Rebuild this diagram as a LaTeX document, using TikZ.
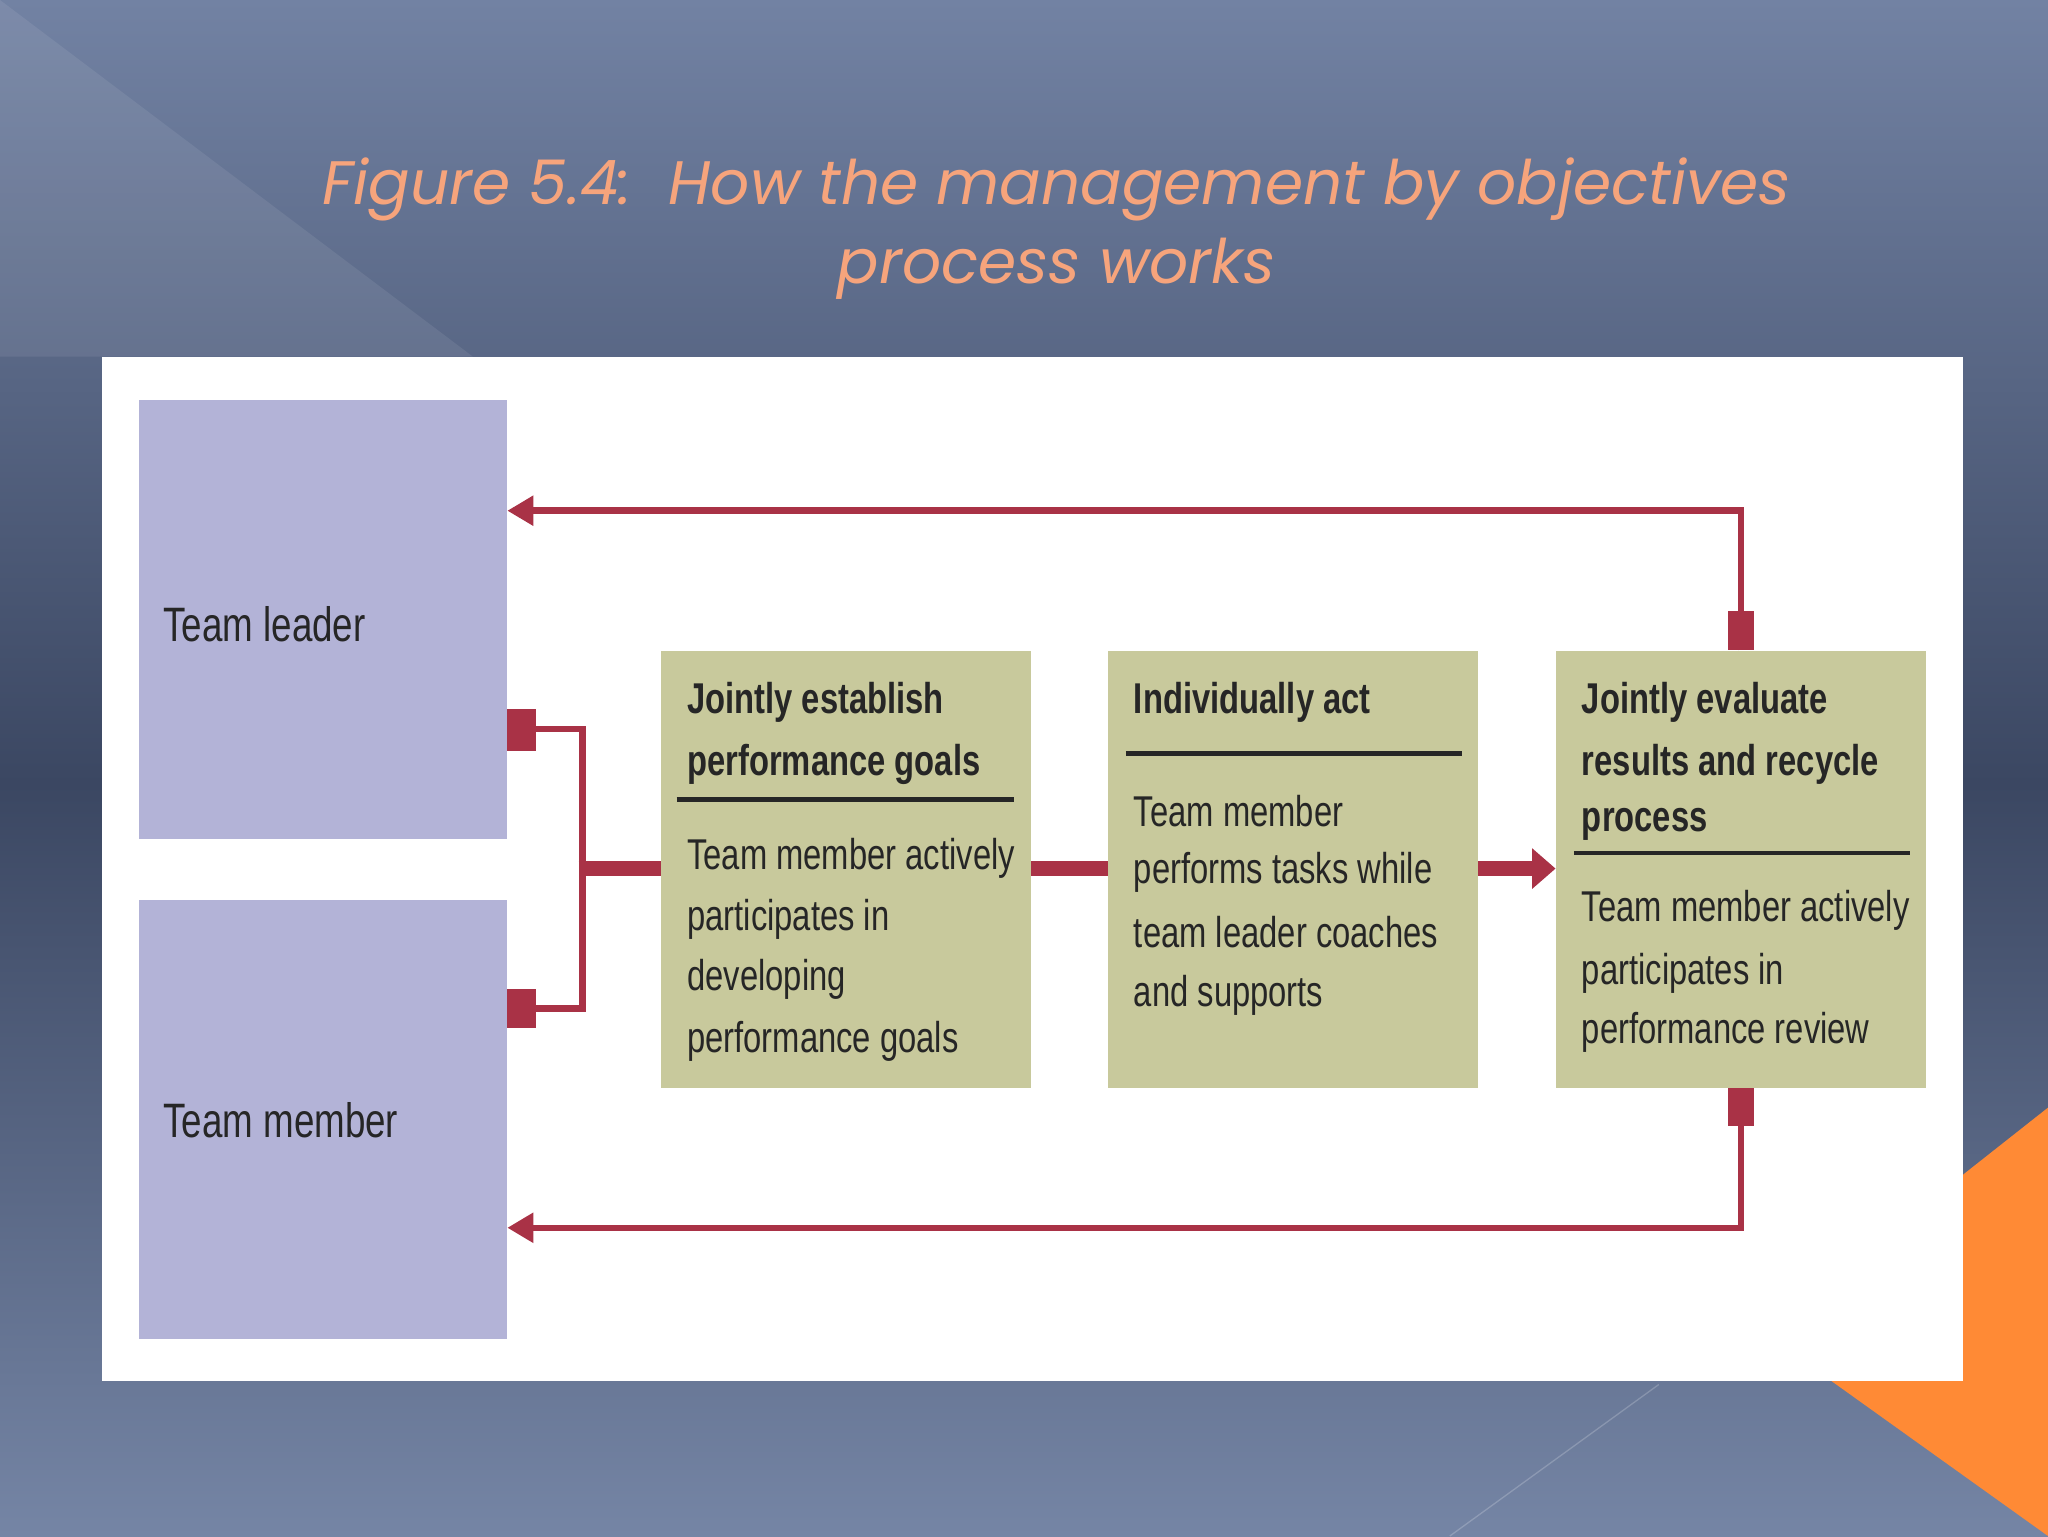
\documentclass[tikz,border=0pt]{standalone}
\usepackage{fontspec}
\setmainfont{Liberation Sans}
\newfontfamily\narrowf[FakeStretch=0.76]{Liberation Sans}
\newfontfamily\titlef{Poppins}
\usetikzlibrary{arrows.meta,calc}
\definecolor{bgtop}{HTML}{7282A3}
\definecolor{bgmid}{HTML}{3B4762}
\definecolor{bgbot}{HTML}{7585A5}
\definecolor{lav}{HTML}{B3B3D7}
\definecolor{olive}{HTML}{C8C99C}
\definecolor{mred}{HTML}{A93246}
\definecolor{ttl}{HTML}{F6A47C}
\definecolor{org}{HTML}{FF8A35}
\begin{document}
\begin{tikzpicture}[x=1pt,y=-1pt,
  lbox/.style={draw=none,fill=lav,minimum width=282pt,minimum height=336pt,anchor=north west,inner sep=0},
  gbox/.style={draw=none,fill=olive,minimum width=283pt,minimum height=335pt,anchor=north west,inner sep=0},
  ttxt/.style={anchor=west,inner sep=0,font=\narrowf\bfseries\fontsize{33}{40}\selectfont,text=black!85},
  btxt/.style={anchor=west,inner sep=0,font=\narrowf\fontsize{33}{40}\selectfont,text=black!85},
  rl/.style={draw=black!85,line width=3.5pt},
  red/.style={draw=mred,line width=5pt},
  thick red/.style={draw=mred,line width=11pt},
  stub/.style={fill=mred,draw=none}]
\useasboundingbox (0,0) rectangle (1568,1176);
\shade[top color=bgtop,bottom color=bgmid] (0,0) rectangle (1568,600);
\shade[top color=bgmid,bottom color=bgbot] (0,600) rectangle (1568,1176);
\fill[white,opacity=0.08] (0,0) -- (362,273) -- (0,273) -- cycle;
\draw[white,opacity=0.2,line width=1pt] (1110,1176) -- (1270,1060);
\fill[org] (1568,848) -- (1350,1020) -- (1568,1176) -- cycle;
\fill[white] (78,273) rectangle (1503,1057);
\node[font=\titlef\itshape\fontsize{47}{60}\selectfont,text=ttl,align=center] (title) at (809,175) {Figure 5.4:\ \ How the management by objectives\\process works};
% left boxes
\node[lbox] (tl) at (106,306) {};
\node[lbox] (tm) at (106,689) {};
\node[btxt,font=\narrowf\fontsize{37}{44}\selectfont] (tlt) at (125,478) {Team leader};
\node[btxt,font=\narrowf\fontsize{37}{44}\selectfont] (tmt) at (125,858) {Team member};
% green boxes
\node[gbox] (b1) at (506,498) {};
\node[gbox] (b2) at (848,498) {};
\node[gbox] (b3) at (1191,498) {};
\node[ttxt] (b1a) at (526,538) {Jointly establish};
\node[ttxt] (b1b) at (526,585) {performance goals};
\draw[rl] (518,612) -- (776,612);
\node[btxt] (b1c) at (526,657) {Team member actively};
\node[btxt] (b1d) at (526,704) {participates in};
\node[btxt] (b1e) at (526,750) {developing};
\node[btxt] (b1f) at (526,797) {performance goals};
\node[ttxt] (b2a) at (868,538) {Individually act};
\draw[rl] (862,577) -- (1119,577);
\node[btxt] (b2c) at (868,621) {Team member};
\node[btxt] (b2d) at (868,668) {performs tasks while};
\node[btxt] (b2e) at (868,714) {team leader coaches};
\node[btxt] (b2f) at (868,762) {and supports};
\node[ttxt] (b3a) at (1211,538) {Jointly evaluate};
\node[ttxt] (b3b) at (1211,585) {results and recycle};
\node[ttxt] (b3c) at (1211,631) {process};
\draw[rl] (1205,653) -- (1462,653);
\node[btxt] (b3d) at (1211,697) {Team member actively};
\node[btxt] (b3e) at (1211,745) {participates in};
\node[btxt] (b3f) at (1211,790) {performance review};
% connectors
\coordinate (topturn) at (1333,391);
\coordinate (botturn) at (1333,940);
\fill[stub] (1323,468) rectangle (1343,498);
\fill[stub] (1323,833) rectangle (1343,862);
\draw[red,-{Triangle[width=22pt,length=20pt]}] (1333,498) -- (topturn) -- (tl.east |- topturn);
\draw[red,-{Triangle[width=22pt,length=20pt]}] (1333,833) -- (botturn) -- (tm.east |- botturn);
\fill[stub] (388,543) rectangle (410,575);
\fill[stub] (388,757) rectangle (410,787);
\coordinate (bk) at (446,665);
\draw[red] (408,558) -- (446,558) -- (446,772) -- (408,772);
\draw[thick red] (443,665) -- (b1.west |- bk);
\draw[thick red] (b1.east |- bk) -- (b2.west |- bk);
\draw[thick red,-{Triangle[width=30pt,length=18pt]}] (b2.east |- bk) -- (b3.west |- bk);
\end{tikzpicture}
\end{document}
